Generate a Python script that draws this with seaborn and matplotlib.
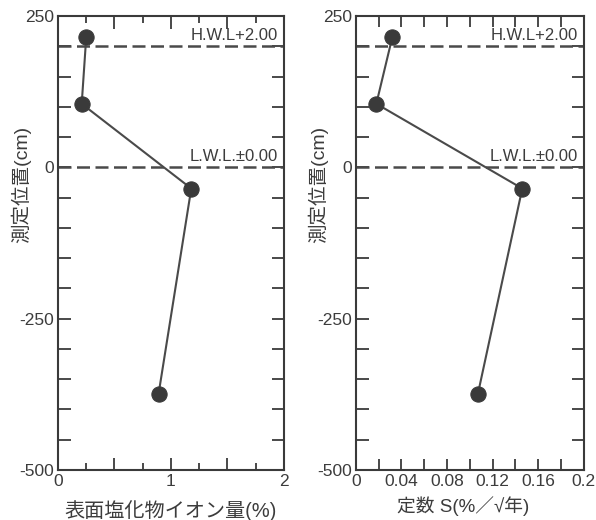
import numpy as np
import pandas as pd
import matplotlib
matplotlib.use("Agg")
import matplotlib.pyplot as plt
import seaborn as sns

depth = [215, 105, -35, -375]
chloride = [0.25, 0.21, 1.18, 0.89]      # surface chloride ion content (%)
s_const = [0.032, 0.018, 0.146, 0.107]   # constant S (%/sqrt(year))

hwl = 200
lwl = 0
hwl_label = "H.W.L+2.00"
lwl_label = "L.W.L.±0.00"

sns.set_style("ticks")
plt.rcParams['font.family'] = ['Liberation Sans', 'Noto Sans CJK JP', 'DejaVu Sans']
plt.rcParams['axes.unicode_minus'] = False

ink = "#3a3a3a"
txt = "#3c3c3c"

fig = plt.figure(figsize=(5.96, 5.20), dpi=100)
ax1 = fig.add_axes([0.0973, 0.0962, 0.379, 0.873])
ax2 = fig.add_axes([0.597, 0.0962, 0.3826, 0.873])

df = pd.DataFrame({"depth": depth, "cl": chloride, "s": s_const})


def style_panel(ax, xcol, xmax, major, minor, labels_every, xlabel, xlsize):
    sns.lineplot(data=df, x=xcol, y="depth", sort=False, estimator=None,
                 ax=ax, color="#4a4a4a", linewidth=1.5, marker="o",
                 markersize=11, markerfacecolor=ink, markeredgecolor=ink)
    for yv, lab in [(hwl, hwl_label), (lwl, lwl_label)]:
        ax.axhline(yv, color="#4a4a4a", linewidth=1.8, linestyle=(0, (5.2, 2.2)))
        ax.text(0.975, yv + 5, lab, transform=ax.get_yaxis_transform(),
                ha="right", va="bottom", fontsize=12, color=txt)
    ax.set_xlim(0, xmax)
    ax.set_ylim(-500, 250)
    xt = np.round(np.arange(0, xmax + major / 2, major), 4)
    ax.set_xticks(xt)
    ax.set_xticklabels([(f"{v:g}" if abs(v / labels_every - round(v / labels_every)) < 1e-6 else "") for v in xt])
    if minor:
        ax.set_xticks(np.round(np.arange(0, xmax + minor / 2, minor), 4), minor=True)
    yt = np.arange(-500, 251, 50)
    ax.set_yticks(yt)
    ax.set_yticklabels([str(v) if v % 250 == 0 else "" for v in yt])
    ax.tick_params(which="major", direction="in", top=True, right=True, length=9, width=1.3,
                   colors=ink, labelcolor=txt, labelsize=12.5, pad=3)
    ax.tick_params(which="minor", direction="in", top=True, right=True, length=5, width=1.3,
                   colors=ink)
    for sp in ax.spines.values():
        sp.set_color(ink)
        sp.set_linewidth(1.5)
    ax.set_xlabel(xlabel, fontsize=xlsize, color=txt)
    ax.set_ylabel("測定位置(cm)", fontsize=14, color=txt)
    ax.yaxis.set_label_coords(-0.12, 0.63)


style_panel(ax1, "cl", 2, 0.5, 0.25, 1, "表面塩化物イオン量(%)", 14.5)
ax1.xaxis.set_label_coords(0.5, -0.066)
style_panel(ax2, "s", 0.2, 0.02, None, 0.04, "定数 S(%／√年)", 13.5)
ax2.xaxis.set_label_coords(0.47, -0.058)
ax2.tick_params(axis="x", which="major", length=8)

fig.savefig("out.png", dpi=100, facecolor="white")
